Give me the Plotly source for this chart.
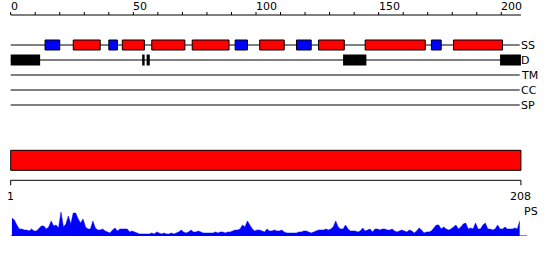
import plotly.graph_objects as go

# ---------------- data ----------------
seq_len = 208
axis_ticks = list(range(0, 201, 10))
axis_labels = [0, 50, 100, 150, 200]
row_names = ["SS", "D", "TM", "CC", "SP"]

helix_start = [25.5, 45.5, 57.5, 74, 101.5, 125.5, 144.5, 180.5]
helix_end = [36.5, 54.5, 71, 89, 111.5, 136, 169, 200.5]
strand_start = [14, 40, 91.5, 116.5, 171.5]
strand_end = [20, 43.5, 96.5, 122.5, 175.5]
disorder_start = [0, 53.6, 55.4, 135.5, 199.5]
disorder_end = [12, 54.6, 56.7, 145, 208]

domain_start = [0]
domain_end = [208]
domain_labels = ["1", "208"]

ps_values = [
    18, 16, 11, 7, 7, 6, 6, 5, 7, 5, 5, 8, 10, 10, 7, 9, 15, 10, 11, 8,
    24, 9, 12, 20, 12, 23, 23, 17, 13, 17, 9, 7, 7, 15, 8, 6, 6, 7, 5, 4,
    3, 6, 8, 5, 7, 7, 7, 7, 4, 5, 4, 3, 2, 2, 2, 2, 2, 3, 2, 4,
    3, 2, 3, 2, 2, 3, 2, 3, 4, 6, 4, 3, 4, 6, 4, 4, 5, 4, 3, 3,
    3, 3, 3, 4, 3, 4, 4, 3, 4, 4, 5, 6, 6, 7, 11, 9, 15, 11, 7, 5,
    6, 6, 5, 4, 7, 5, 5, 6, 5, 5, 6, 4, 3, 3, 3, 3, 3, 4, 4, 5,
    5, 4, 3, 4, 5, 6, 6, 6, 7, 6, 7, 9, 15, 9, 7, 7, 11, 7, 5, 5,
    5, 4, 5, 8, 5, 6, 7, 4, 7, 7, 6, 7, 7, 6, 6, 7, 5, 4, 5, 6,
    5, 4, 6, 5, 3, 5, 8, 6, 3, 4, 4, 5, 8, 11, 11, 7, 9, 7, 6, 7,
    9, 11, 7, 9, 12, 13, 7, 8, 7, 13, 7, 7, 11, 13, 7, 7, 6, 7, 11, 7,
    7, 9, 7, 7, 7, 8, 7, 15,
]

# ---------------- layout constants ----------------
W, H = 550, 260
X0PX, PXU = 10.7, 2.453          # pixel of residue 0, pixels per residue
xr = [(0 - X0PX) / PXU, (W - X0PX) / PXU]
axis_y, tick_len = 15, 3
row_y = [45, 60, 75, 90, 105]
box_half = 5
dis_half = 5.5
dom_top, dom_bot = 150.3, 170.3
dom_axis_y = 180.3
ps_base_px, ps_top_px = 236, 212
FONT = dict(family="DejaVu Sans", size=11, color="black")


def py(px):
    """pixel row (from top) -> paper fraction"""
    return 1 - px / H


fig = go.Figure()
shapes = []
annotations = []


def line(x0, x1, y0, y1, color="black"):
    shapes.append(dict(type="line", xref="x", yref="paper", x0=x0, x1=x1,
                       y0=py(y0), y1=py(y1), line=dict(color=color, width=1)))


def rect(x0, x1, y0, y1, fill, border=True):
    shapes.append(dict(type="rect", xref="x", yref="paper", x0=x0, x1=x1,
                       y0=py(y0), y1=py(y1), fillcolor=fill,
                       line=dict(color="black", width=1 if border else 0)))


def text(x, y, s, xanchor="left", xshift=0):
    annotations.append(dict(x=x, y=py(y), xref="x", yref="paper", text=s,
                            showarrow=False, xanchor=xanchor, yanchor="middle",
                            font=FONT, xshift=xshift))


# top ruler
line(0, seq_len, axis_y, axis_y)
for t in axis_ticks:
    line(t, t, axis_y, axis_y - tick_len)
for t in axis_labels:
    text(t, axis_y - 9, str(t), xshift=-2)

# track lines and labels
for name, y in zip(row_names, row_y):
    line(0, seq_len - 0.5, y, y)
    text(seq_len - 0.5, y, name, xshift=-1)

# SS boxes
for s, e in zip(helix_start, helix_end):
    rect(s, e, row_y[0] - box_half, row_y[0] + box_half, "#ff0000")
for s, e in zip(strand_start, strand_end):
    rect(s, e, row_y[0] - box_half, row_y[0] + box_half, "#0000ff")
# disorder
for s, e in zip(disorder_start, disorder_end):
    rect(s, e, row_y[1] - dis_half, row_y[1] + dis_half, "black", border=False)

# domain bar
for s, e in zip(domain_start, domain_end):
    rect(s, e, dom_top, dom_bot, "#ff0000")
line(0, seq_len, dom_axis_y, dom_axis_y)
for xv, lab in zip([0, seq_len], domain_labels):
    line(xv, xv, dom_axis_y, dom_axis_y + 5)
    text(xv, 196, lab, xanchor="center")

text(seq_len + 0.3, 211, "PS")

# PS profile
ps_x = [i + 0.5 for i in range(len(ps_values))]
fig.add_trace(go.Scatter(x=ps_x, y=ps_values, mode="lines", fill="tozeroy",
                         fillcolor="#0000ff", line=dict(color="#0000ff", width=0.5),
                         yaxis="y2", hoverinfo="skip", showlegend=False))
fig.add_trace(go.Scatter(x=[0, seq_len + 2.5], y=[0, 0], mode="lines",
                         line=dict(color="#0000ff", width=1), yaxis="y2",
                         hoverinfo="skip", showlegend=False))

fig.update_layout(
    width=W, height=H, margin=dict(l=0, r=0, t=0, b=0),
    paper_bgcolor="white", plot_bgcolor="white",
    xaxis=dict(range=xr, visible=False, fixedrange=True),
    yaxis=dict(range=[0, 1], visible=False, fixedrange=True),
    yaxis2=dict(range=[0, ps_base_px - ps_top_px], visible=False,
                domain=[py(ps_base_px), py(ps_top_px)],
                anchor="x", fixedrange=True),
    shapes=shapes, annotations=annotations, showlegend=False,
)

fig.write_html("out.html")
